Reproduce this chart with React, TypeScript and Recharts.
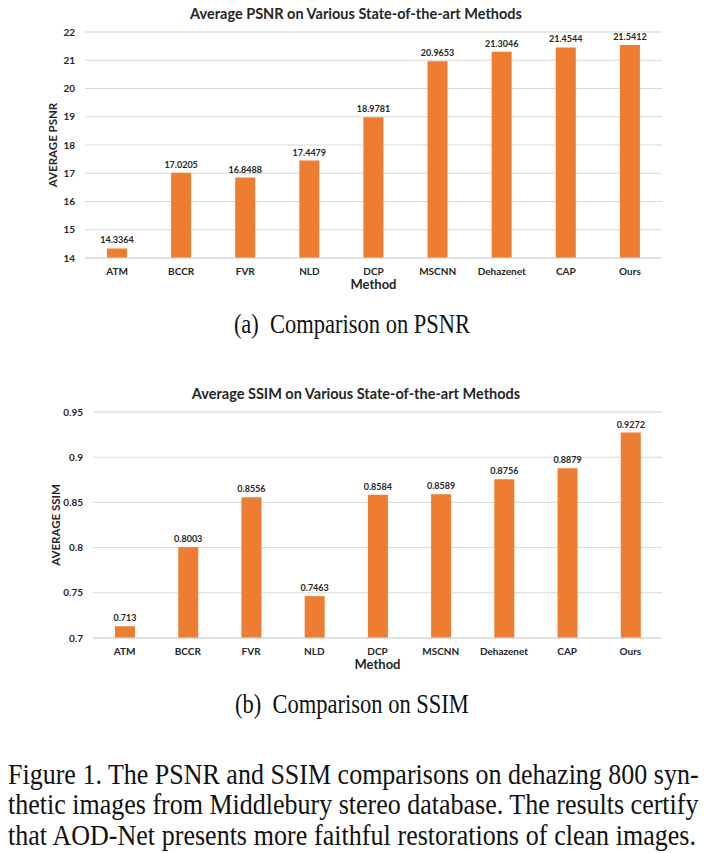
import { BarChart, Bar, XAxis, YAxis, CartesianGrid, LabelList } from 'recharts'

const methods = ['ATM', 'BCCR', 'FVR', 'NLD', 'DCP', 'MSCNN', 'Dehazenet', 'CAP', 'Ours']
const psnrValues = [14.3364, 17.0205, 16.8488, 17.4479, 18.9781, 20.9653, 21.3046, 21.4544, 21.5412]
const ssimValues = [0.713, 0.8003, 0.8556, 0.7463, 0.8584, 0.8589, 0.8756, 0.8879, 0.9272]

const psnrTicks = [14, 15, 16, 17, 18, 19, 20, 21, 22]
const ssimTicks = [0.7, 0.75, 0.8, 0.85, 0.9, 0.95]

const ORANGE = '#ED7D31'
const FONT = 'Lato, "Open Sans", sans-serif'
const SERIF = '"Liberation Serif", "Times New Roman", serif'

// 5 minor divisions between each pair of major ticks
function minorTicks(major: number[]) {
  const out: number[] = []
  for (let i = 0; i < major.length - 1; i++) {
    const step = (major[i + 1] - major[i]) / 5
    for (let j = 0; j < 5; j++) out.push(+(major[i] + step * j).toFixed(4))
  }
  out.push(major[major.length - 1])
  return out
}

const YLabel = (props: any) => {
  const { viewBox, value, left } = props
  const cx = viewBox.x + left
  const cy = viewBox.y + viewBox.height / 2
  return (
    <text
      transform={`translate(${cx}, ${cy}) rotate(-90)`}
      textAnchor="middle"
      dominantBaseline="central"
      fontFamily={FONT}
      fontWeight={700}
      fontSize={11.5}
      fill="#262626"
    >
      {value}
    </text>
  )
}

type PanelProps = {
  top: number
  title: string
  yLabel: string
  values: number[]
  ticks: number[]
  axisWidth: number
  labelLeft: number
  caption: string
}

function Panel({ top, title, yLabel, values, ticks, axisWidth, labelLeft, caption }: PanelProps) {
  const data = methods.map((m, i) => ({ method: m, value: values[i] }))
  const domain: [number, number] = [ticks[0], ticks[ticks.length - 1]]
  return (
    <div style={{ position: 'absolute', left: 0, top, width: 704 }}>
      <div
        style={{
          position: 'absolute',
          left: 0,
          width: 704,
          top: 5,
          textAlign: 'center',
          fontFamily: FONT,
          fontWeight: 700,
          fontSize: 14.5,
          color: '#262626',
          paddingLeft: 4,
        }}
      >
        {title}
      </div>
      <BarChart
        width={704}
        height={293}
        data={data}
        margin={{ top: 32, right: 42, left: 0, bottom: 0 }}
        barCategoryGap={0}
      >
        <YAxis yAxisId="minor" hide domain={domain} ticks={minorTicks(ticks)} type="number" />
        <CartesianGrid yAxisId="minor" vertical={false} stroke="#f0f0f0" />
        <CartesianGrid vertical={false} stroke="#d9d9d9" />
        <XAxis
          dataKey="method"
          height={35}
          tickLine={false}
          axisLine={{ stroke: '#d9d9d9' }}
          interval={0}
          tick={{ fontFamily: FONT, fontWeight: 700, fontSize: 10, fill: '#262626' }}
          tickMargin={4}
          label={{
            value: 'Method',
            position: 'insideBottom',
            offset: 4,
            style: { fontFamily: FONT, fontWeight: 700, fontSize: 13, fill: '#262626' },
          }}
        />
        <YAxis
          type="number"
          domain={domain}
          ticks={ticks}
          width={axisWidth}
          axisLine={false}
          tickLine={false}
          tickMargin={4}
          tick={{ fontFamily: FONT, fontWeight: 700, fontSize: 10, fill: '#262626' }}
          label={<YLabel value={yLabel} left={labelLeft} />}
        />
        <Bar dataKey="value" fill={ORANGE} barSize={20} isAnimationActive={false}>
          <LabelList
            dataKey="value"
            position="top"
            offset={5}
            style={{ fontFamily: FONT, fontWeight: 700, fontSize: 9, fill: '#262626' }}
          />
        </Bar>
      </BarChart>
      <div
        style={{
          position: 'absolute',
          left: 0,
          width: 704,
          top: 310,
          textAlign: 'center',
          fontFamily: SERIF,
          fontSize: 22.5,
          lineHeight: '30px',
          color: '#111',
          whiteSpace: 'pre',
          transform: 'scaleY(1.2)',
        }}
      >
        {caption}
      </div>
    </div>
  )
}

const figureLines = [
  'Figure 1. The PSNR and SSIM comparisons on dehazing 800 syn-',
  'thetic images from Middlebury stereo database. The results certify',
  'that AOD-Net presents more faithful restorations of clean images.',
]

export default function App() {
  return (
    <div style={{ position: 'absolute', left: 0, top: 0, width: 704, height: 853, background: '#fff', overflow: 'hidden' }}>
      <Panel
        top={0}
        title="Average PSNR on Various State-of-the-art Methods"
        yLabel="AVERAGE PSNR"
        values={psnrValues}
        ticks={psnrTicks}
        axisWidth={85}
        labelLeft={52}
        caption="(a)  Comparison on PSNR"
      />
      <Panel
        top={380}
        title="Average SSIM on Various State-of-the-art Methods"
        yLabel="AVERAGE SSIM"
        values={ssimValues}
        ticks={ssimTicks}
        axisWidth={93}
        labelLeft={55}
        caption="(b)  Comparison on SSIM"
      />
      <div
        style={{
          position: 'absolute',
          left: 8,
          top: 760,
          width: 688,
          fontFamily: SERIF,
          fontSize: 26,
          lineHeight: '27.3px',
          color: '#111',
          transform: 'scaleY(1.1)',
          transformOrigin: 'top',
        }}
      >
        {figureLines.map((line) => (
          <div key={line} style={{ textAlign: 'justify', textAlignLast: 'justify', whiteSpace: 'nowrap' }}>
            {line}
          </div>
        ))}
      </div>
    </div>
  )
}
